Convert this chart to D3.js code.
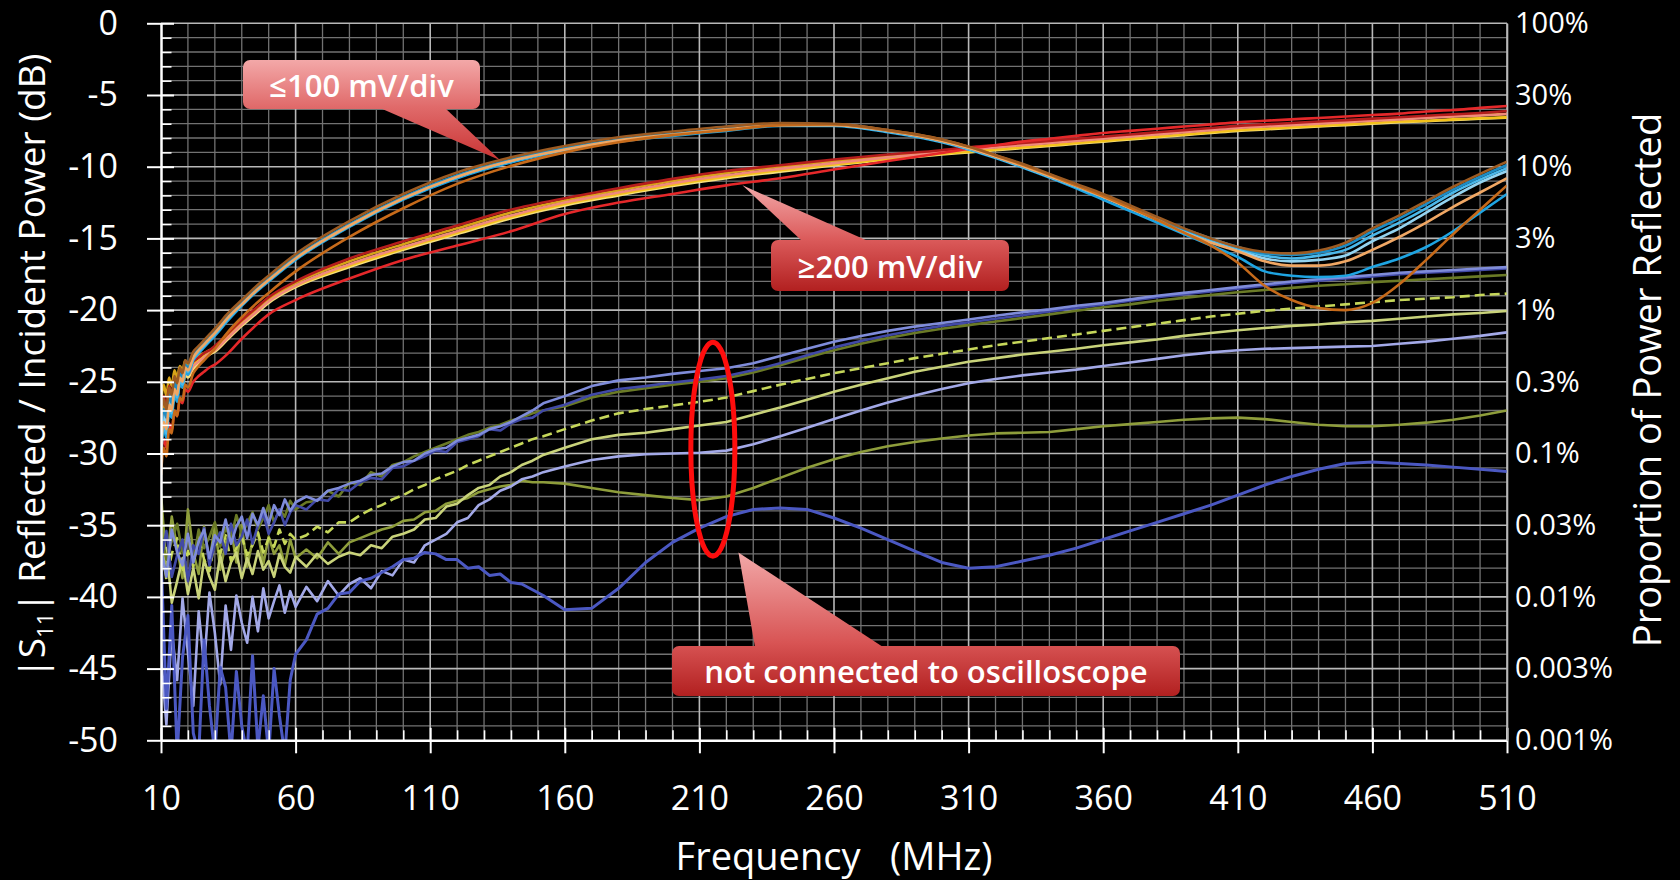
<!DOCTYPE html>
<html>
<head>
<meta charset="utf-8">
<script src="https://cdn.jsdelivr.net/npm/d3@7"></script>
<style>
  html, body { margin: 0; padding: 0; background: #000; }
  svg { display: block; }
  text { font-family: "Open Sans", "Noto Sans", sans-serif; fill: #fff; }
</style>
</head>
<body>
<svg id="chart" width="1680" height="880"></svg>
<script>
// ---------- frequency grids (MHz) ----------
const freqAB = [10,11,12,13,14,15,16,17,18,19,20,
  22,24,26,28,30,35,40,45,50,
  60,80,100,120,140,160,180,200,220,240,260,280,300,
  310,320,330,340,350,360,370,380,390,400,410,420,430,440,450,460,470,480,490,500,510];

const freqC = [10,12,14,16,18,20,22,24,26,28,30,32,34,36,38,40,42,44,46,48,50,52,54,56,58,60,
  64,68,72,76,80,84,88,92,96,100,104,108,112,116,120,124,128,132,136,140,144,148,152,
  160,170,180,190,200,210,220,230,240,250,260,270,280,290,300,310,320,330,340,350,
  360,370,380,390,400,410,420,430,440,450,460,470,480,490,500,510];

// ---------- |S11| in dB, probes at <=100 mV/div ----------
const lowA1 = [-27.6,-26.2,-27.0,-25.4,-25.9,-24.6,-25.1,-24.0,-24.4,-23.5,-23.7,
  -22.9,-22.5,-22.1,-21.7,-21.3,-20.2,-19.3,-18.4,-17.6,
  -16.1,-13.8,-11.9,-10.4,-9.35,-8.55,-7.95,-7.55,-7.2,-6.95,-7.0,-7.45,-8.1,
  -8.6,-9.2,-9.8,-10.5,-11.2,-11.9,-12.7,-13.5,-14.3,-15.0,-15.6,-15.95,-16.05,-15.85,-15.3,-14.3,-13.4,-12.4,-11.4,-10.5,-9.65];
const lowA2 = [-28.4,-26.9,-27.5,-25.9,-26.5,-24.9,-25.6,-24.4,-24.7,-23.8,-24.0,
  -23.2,-22.7,-22.3,-21.9,-21.5,-20.4,-19.5,-18.6,-17.8,
  -16.3,-14.0,-12.1,-10.6,-9.5,-8.7,-8.1,-7.7,-7.35,-7.05,-7.05,-7.5,-8.2,
  -8.7,-9.3,-9.95,-10.65,-11.35,-12.05,-12.85,-13.6,-14.35,-15.0,-15.6,-16.05,-16.15,-16.0,-15.5,-14.5,-13.6,-12.6,-11.6,-10.7,-9.88];
const lowA3 = [-30.5,-28.0,-28.6,-26.8,-27.2,-25.6,-26.1,-24.8,-25.2,-24.1,-24.3,
  -23.4,-22.9,-22.5,-22.1,-21.7,-20.6,-19.6,-18.7,-17.9,
  -16.4,-14.1,-12.2,-10.7,-9.6,-8.8,-8.15,-7.75,-7.4,-7.1,-7.1,-7.55,-8.25,
  -8.75,-9.35,-10.0,-10.7,-11.4,-12.1,-12.9,-13.65,-14.4,-15.1,-15.7,-16.2,-16.4,-16.2,-15.8,-14.8,-13.9,-12.9,-11.8,-10.9,-10.1];
const lowA4 = [-29.0,-27.4,-28.1,-26.3,-26.9,-25.3,-25.8,-24.6,-24.9,-24.0,-24.1,
  -23.3,-22.8,-22.4,-22.0,-21.6,-20.5,-19.6,-18.7,-17.9,
  -16.4,-14.1,-12.2,-10.7,-9.6,-8.8,-8.15,-7.75,-7.4,-7.1,-7.1,-7.55,-8.25,
  -8.75,-9.35,-10.0,-10.7,-11.4,-12.1,-12.9,-13.7,-14.5,-15.2,-15.8,-16.4,-16.6,-16.5,-16.2,-15.2,-14.3,-13.2,-12.1,-11.1,-10.3];
const lowA5 = [-29.6,-27.8,-28.3,-26.6,-27.0,-25.5,-25.9,-24.7,-25.0,-24.0,-24.2,
  -23.3,-22.8,-22.4,-22.0,-21.6,-20.5,-19.6,-18.7,-17.9,
  -16.4,-14.1,-12.2,-10.7,-9.6,-8.8,-8.15,-7.75,-7.4,-7.1,-7.1,-7.5,-8.2,
  -8.7,-9.3,-9.95,-10.65,-11.35,-12.1,-12.9,-13.7,-14.6,-15.3,-15.9,-16.6,-16.9,-16.9,-16.6,-15.8,-14.9,-13.9,-12.8,-11.8,-10.8];
const lowA6 = [-31.5,-29.6,-30.2,-28.3,-28.6,-27.0,-27.4,-26.1,-26.3,-25.2,-25.4,
  -24.4,-23.9,-23.5,-23.1,-22.7,-21.5,-20.5,-19.6,-18.8,
  -17.3,-14.9,-12.9,-11.2,-9.95,-9.0,-8.3,-7.8,-7.45,-7.1,-7.05,-7.45,-8.1,
  -8.6,-9.2,-9.85,-10.55,-11.3,-12.05,-12.85,-13.7,-14.6,-15.5,-16.7,-18.3,-19.3,-19.85,-20.0,-19.5,-18.2,-16.5,-14.7,-13.0,-11.3];
const lowA7 = [-30.0,-28.2,-28.9,-27.1,-27.5,-25.9,-26.4,-25.1,-25.4,-24.3,-24.5,
  -23.5,-23.0,-22.6,-22.2,-21.8,-20.7,-19.7,-18.8,-18.0,
  -16.5,-14.2,-12.3,-10.8,-9.7,-8.9,-8.25,-7.85,-7.5,-7.15,-7.15,-7.6,-8.3,
  -8.8,-9.4,-10.05,-10.75,-11.5,-12.3,-13.1,-13.9,-14.7,-15.5,-16.3,-17.3,-17.6,-17.7,-17.6,-17.0,-16.4,-15.6,-14.5,-13.2,-11.9];

// ---------- |S11| in dB, probes at >=200 mV/div ----------
const highB1 = [-30.2,-29.0,-29.6,-27.9,-28.4,-27.0,-27.4,-26.2,-26.5,-25.5,-25.7,
  -25.0,-24.6,-24.3,-24.0,-23.8,-23.0,-22.0,-21.1,-20.3,
  -19.3,-17.8,-16.5,-15.5,-14.5,-13.3,-12.5,-11.9,-11.3,-10.8,-10.2,-9.6,-9.05,
  -8.75,-8.5,-8.25,-8.05,-7.85,-7.65,-7.5,-7.35,-7.2,-7.05,-6.9,-6.8,-6.7,-6.6,-6.5,-6.4,-6.3,-6.15,-6.05,-5.9,-5.77];
const highB2 = [-27.2,-26.0,-26.8,-25.3,-25.9,-24.8,-25.2,-24.4,-24.6,-23.9,-24.1,
  -23.6,-23.3,-23.0,-22.8,-22.5,-21.6,-20.7,-19.9,-19.1,
  -18.0,-16.4,-15.2,-14.1,-13.0,-12.2,-11.5,-10.85,-10.3,-9.9,-9.5,-9.15,-8.85,
  -8.65,-8.5,-8.35,-8.2,-8.05,-7.9,-7.75,-7.6,-7.45,-7.3,-7.15,-7.05,-6.95,-6.85,-6.75,-6.65,-6.55,-6.45,-6.35,-6.25,-6.12];
const highB3 = [-28.5,-27.0,-27.7,-26.1,-26.6,-25.4,-25.8,-24.9,-25.1,-24.3,-24.5,
  -23.9,-23.6,-23.3,-23.0,-22.8,-21.9,-21.0,-20.2,-19.4,
  -18.3,-16.8,-15.6,-14.5,-13.4,-12.5,-11.8,-11.15,-10.6,-10.15,-9.75,-9.35,-9.0,
  -8.8,-8.65,-8.5,-8.35,-8.2,-8.05,-7.9,-7.75,-7.6,-7.45,-7.3,-7.2,-7.1,-7.0,-6.9,-6.8,-6.7,-6.6,-6.5,-6.42,-6.33];
const highB4 = [-27.8,-26.4,-27.3,-25.6,-26.2,-25.0,-25.5,-24.6,-24.9,-24.1,-24.3,
  -23.8,-23.5,-23.2,-23.0,-22.7,-21.8,-20.9,-20.1,-19.3,
  -18.3,-16.9,-15.7,-14.6,-13.5,-12.6,-11.9,-11.25,-10.7,-10.25,-9.85,-9.45,-9.1,
  -8.95,-8.8,-8.65,-8.5,-8.35,-8.2,-8.05,-7.9,-7.75,-7.6,-7.45,-7.35,-7.25,-7.15,-7.05,-6.95,-6.85,-6.8,-6.7,-6.62,-6.56];
const highB5 = [-26.5,-25.2,-26.0,-24.7,-25.3,-24.2,-24.7,-23.9,-24.2,-23.5,-23.9,
  -23.5,-23.2,-23.0,-22.8,-22.6,-21.7,-20.8,-20.0,-19.2,
  -18.1,-16.6,-15.4,-14.3,-13.2,-12.35,-11.65,-11.0,-10.45,-10.0,-9.6,-9.25,-8.95,
  -8.75,-8.6,-8.45,-8.3,-8.15,-8.0,-7.85,-7.7,-7.55,-7.4,-7.25,-7.15,-7.05,-6.95,-6.85,-6.75,-6.65,-6.55,-6.47,-6.4,-6.33];
const highB6 = [-28.8,-27.5,-28.0,-26.5,-27.0,-25.7,-26.1,-25.1,-25.4,-24.5,-24.7,
  -24.1,-23.7,-23.4,-23.1,-22.9,-22.0,-21.1,-20.3,-19.5,
  -18.4,-17.0,-15.8,-14.7,-13.6,-12.7,-12.0,-11.35,-10.8,-10.35,-9.9,-9.5,-9.15,
  -9.0,-8.85,-8.7,-8.55,-8.4,-8.25,-8.1,-7.95,-7.8,-7.65,-7.5,-7.4,-7.3,-7.2,-7.1,-7.0,-6.9,-6.82,-6.74,-6.66,-6.58];

// ---------- |S11| in dB, probes not connected to the oscilloscope ----------
const openC1 = [-37.5,-35.4,-38.6,-37.1,-36.0,-38.9,-36.4,-37.0,-35.2,-37.8,-36.3,-35.5,-37.0,-34.9,-36.4,-35.8,-34.6,-36.3,-35.0,-34.2,-35.6,-34.8,-33.9,-35.0,-34.1,-33.6,
  -33.9,-33.2,-33.3,-32.5,-32.6,-32.0,-31.7,-31.8,-31.0,-30.9,-30.5,-30.2,-29.8,-29.9,-29.2,-29.0,-28.8,-28.3,-28.4,-27.9,-27.6,-27.5,-27.0,
  -26.6,-25.9,-25.5,-25.3,-25.05,-24.85,-24.6,-24.2,-23.7,-23.15,-22.6,-22.15,-21.75,-21.4,-21.1,-20.85,-20.6,-20.35,-20.1,-19.85,
  -19.6,-19.35,-19.1,-18.9,-18.7,-18.5,-18.3,-18.1,-17.95,-17.8,-17.65,-17.5,-17.4,-17.3,-17.2,-17.1];
const openC2 = [-36.5,-38.6,-35.3,-36.9,-37.8,-35.6,-37.6,-36.1,-35.3,-37.3,-35.7,-36.2,-34.6,-36.3,-35.1,-34.4,-35.9,-34.2,-35.0,-33.8,-34.9,-33.6,-34.3,-33.2,-34.0,-33.4,
  -33.0,-33.3,-32.6,-32.4,-32.1,-31.9,-31.5,-31.4,-30.9,-30.6,-30.5,-30.0,-29.7,-29.6,-29.1,-28.9,-28.7,-28.3,-28.1,-27.8,-27.4,-27.0,-26.5,
  -26.0,-25.3,-24.9,-24.7,-24.45,-24.25,-24.05,-23.7,-23.2,-22.7,-22.2,-21.8,-21.45,-21.15,-20.9,-20.65,-20.4,-20.15,-19.95,-19.7,
  -19.5,-19.25,-19.0,-18.8,-18.6,-18.4,-18.2,-18.0,-17.85,-17.7,-17.55,-17.4,-17.3,-17.2,-17.1,-17.0];
const openC3 = [-35.5,-37.4,-36.1,-34.9,-36.9,-36.0,-37.5,-35.3,-36.6,-35.8,-34.8,-36.5,-35.2,-35.9,-34.3,-35.6,-34.9,-34.1,-35.3,-34.5,-33.6,-34.8,-33.9,-34.4,-33.3,-33.9,
  -33.4,-33.3,-32.6,-33.0,-32.0,-32.2,-31.3,-31.6,-30.8,-30.6,-30.2,-29.9,-29.6,-29.3,-29.0,-28.7,-28.5,-28.2,-28.0,-27.7,-27.5,-27.2,-27.0,
  -26.7,-26.1,-25.7,-25.45,-25.2,-25.0,-24.75,-24.35,-23.85,-23.3,-22.8,-22.35,-21.95,-21.6,-21.3,-21.05,-20.8,-20.55,-20.3,-20.05,
  -19.8,-19.6,-19.35,-19.15,-18.95,-18.75,-18.6,-18.45,-18.3,-18.2,-18.05,-17.95,-17.85,-17.75,-17.65,-17.55];
const openC4 = [-36.0,-38.8,-37.0,-35.9,-38.3,-36.8,-37.9,-35.6,-37.4,-38.2,-36.1,-37.0,-35.7,-37.5,-36.6,-35.8,-37.1,-36.4,-35.5,-36.9,-35.9,-36.5,-35.3,-36.3,-35.6,-36.0,
  -35.7,-35.1,-35.5,-34.8,-34.8,-34.3,-33.9,-33.6,-33.2,-32.9,-32.5,-32.2,-31.8,-31.5,-31.2,-30.8,-30.5,-30.2,-29.9,-29.6,-29.3,-29.0,-28.8,
  -28.3,-27.7,-27.2,-26.9,-26.65,-26.4,-26.1,-25.65,-25.2,-24.8,-24.4,-24.05,-23.7,-23.35,-23.05,-22.75,-22.45,-22.2,-21.95,-21.7,
  -21.45,-21.2,-20.95,-20.7,-20.45,-20.25,-20.05,-19.9,-19.75,-19.6,-19.45,-19.3,-19.2,-19.1,-18.95,-18.85];
const openC5 = [-38.5,-36.6,-40.4,-38.9,-37.3,-39.8,-38.0,-40.1,-37.4,-38.6,-39.5,-37.1,-38.9,-37.6,-36.9,-38.7,-37.3,-38.4,-36.8,-38.1,-37.5,-38.6,-37.0,-37.9,-38.3,-37.2,
  -37.9,-37.0,-37.7,-37.2,-36.9,-37.1,-36.4,-36.6,-35.8,-35.6,-35.3,-34.6,-34.5,-33.7,-33.5,-32.9,-32.4,-32.2,-31.6,-31.3,-30.8,-30.5,-30.1,
  -29.6,-29.0,-28.7,-28.55,-28.3,-28.05,-27.8,-27.3,-26.8,-26.25,-25.7,-25.2,-24.75,-24.3,-23.95,-23.6,-23.35,-23.1,-22.9,-22.7,
  -22.45,-22.25,-22.05,-21.8,-21.6,-21.4,-21.25,-21.1,-21.0,-20.85,-20.75,-20.6,-20.45,-20.3,-20.2,-20.06];
const openC6 = [-44.0,-48.9,-42.3,-45.8,-40.1,-43.9,-47.6,-41.0,-44.8,-39.7,-42.5,-46.1,-40.6,-43.7,-39.9,-41.8,-43.2,-40.0,-42.4,-39.4,-41.5,-40.3,-39.2,-41.1,-39.6,-40.7,
  -39.3,-40.3,-38.9,-39.9,-39.1,-38.7,-39.4,-38.2,-38.5,-37.4,-37.6,-36.4,-36.0,-35.6,-34.8,-34.5,-33.6,-33.2,-32.6,-32.3,-31.8,-31.6,-31.3,
  -30.9,-30.45,-30.2,-30.05,-30.0,-29.95,-29.8,-29.35,-28.8,-28.2,-27.6,-27.0,-26.45,-25.95,-25.5,-25.1,-24.8,-24.55,-24.35,-24.15,
  -23.9,-23.65,-23.4,-23.15,-22.95,-22.8,-22.7,-22.65,-22.6,-22.55,-22.5,-22.35,-22.2,-22.0,-21.8,-21.55];
const openC7 = [-32.8,-37.8,-34.4,-36.6,-38.7,-33.9,-36.9,-38.4,-35.1,-37.7,-34.9,-38.1,-36.3,-35.2,-37.6,-35.0,-37.9,-36.1,-35.5,-37.7,-35.8,-37.0,-36.4,-37.8,-36.0,-37.3,
  -36.7,-37.3,-36.2,-37.0,-36.2,-35.9,-35.6,-35.3,-35.1,-34.7,-34.6,-34.1,-34.0,-33.5,-33.3,-33.1,-32.7,-32.5,-32.3,-32.2,-31.9,-32.0,-32.0,
  -32.1,-32.4,-32.7,-32.9,-33.1,-33.25,-33.0,-32.4,-31.7,-31.0,-30.4,-29.9,-29.5,-29.2,-28.95,-28.75,-28.6,-28.55,-28.5,-28.3,
  -28.1,-27.95,-27.8,-27.65,-27.55,-27.5,-27.6,-27.8,-28.0,-28.1,-28.1,-28.0,-27.85,-27.65,-27.35,-27.0];
const openC8 = [-37.0,-47.8,-40.6,-51.0,-44.2,-41.3,-49.5,-51.0,-43.0,-47.6,-51.0,-44.9,-46.3,-51.0,-45.2,-49.0,-51.0,-44.1,-50.6,-46.9,-51.0,-45.0,-48.3,-51.0,-45.8,-44.0,
  -43.0,-41.2,-40.8,-39.8,-39.7,-38.9,-38.7,-38.3,-37.9,-37.4,-37.3,-36.9,-37.0,-37.4,-37.4,-38.0,-37.9,-38.5,-38.4,-39.0,-39.1,-39.5,-39.9,
  -40.9,-40.8,-39.4,-37.6,-36.2,-35.2,-34.4,-33.9,-33.8,-33.9,-34.5,-35.2,-36.0,-36.8,-37.6,-38.0,-37.9,-37.5,-37.1,-36.6,
  -36.0,-35.4,-34.8,-34.2,-33.6,-32.9,-32.2,-31.6,-31.1,-30.7,-30.6,-30.7,-30.8,-30.95,-31.1,-31.25];

// ---------- axis ticks and labels ----------
const dbTicks = [0,-5,-10,-15,-20,-25,-30,-35,-40,-45,-50];
const pctLabels = ["100%","30%","10%","3%","1%","0.3%","0.1%","0.03%","0.01%","0.003%","0.001%"];
const freqTicks = [10,60,110,160,210,260,310,360,410,460,510];

// ---------- drawing styles per trace (draw order back to front) ----------
const traces = [
  {f: freqC,  v: openC7, color: "#8e9d3b", jagged: true},
  {f: freqC,  v: openC5, color: "#c9d37a", jagged: true},
  {f: freqC,  v: openC4, color: "#c6d75a", jagged: true, dash: "10,5"},
  {f: freqC,  v: openC3, color: "#6a7a26", jagged: true},
  {f: freqC,  v: openC6, color: "#a3a9e8", jagged: true},
  {f: freqC,  v: openC8, color: "#4b58c2", jagged: true, width: 3},
  {f: freqC,  v: openC1, color: "#4149a6", jagged: true},
  {f: freqC,  v: openC2, color: "#7f8cda", jagged: true},
  {f: freqAB, v: highB6, color: "#f6e07c"},
  {f: freqAB, v: highB4, color: "#f4c21a"},
  {f: freqAB, v: highB5, color: "#d8a418"},
  {f: freqAB, v: highB3, color: "#f08a7c"},
  {f: freqAB, v: highB2, color: "#b51d1d"},
  {f: freqAB, v: highB1, color: "#e5282a"},
  {f: freqAB, v: lowA7,  color: "#1ea4e2"},
  {f: freqAB, v: lowA4,  color: "#93d3f0"},
  {f: freqAB, v: lowA3,  color: "#4bb8ea"},
  {f: freqAB, v: lowA2,  color: "#1d8cc4"},
  {f: freqAB, v: lowA5,  color: "#f0a764"},
  {f: freqAB, v: lowA6,  color: "#c66a1a"},
  {f: freqAB, v: lowA1,  color: "#9d5b22"}
];

// ---------- layout ----------
const X0 = 161, X1 = 1507, Y0 = 23.3, Y1 = 740.3;
const x = d3.scaleLinear().domain([10, 510]).range([X0, X1]);
const y = d3.scaleLinear().domain([-50, 0]).range([Y1, Y0]);

const svg = d3.select("#chart");
svg.append("rect").attr("width", 1680).attr("height", 880).attr("fill", "#000");
const defs = svg.append("defs");
defs.append("clipPath").attr("id", "plotClip")
  .append("rect").attr("x", X0).attr("y", Y0 - 3).attr("width", X1 - X0).attr("height", Y1 - Y0 + 3);

// ---------- grid ----------
const minorF = d3.range(20, 510, 10).filter(f => (f - 10) % 50 !== 0);
const majorF = d3.range(60, 511, 50);
const minorDb = d3.range(-1, -50, -1).filter(d => d % 5 !== 0);
const majorDb = d3.range(0, -50, -5);
const grid = svg.append("g");
grid.selectAll(".vmin").data(minorF).join("line")
  .attr("x1", d => x(d)).attr("x2", d => x(d)).attr("y1", Y0).attr("y2", Y1)
  .attr("stroke", "#727272").attr("stroke-width", 1.3);
grid.selectAll(".hmin").data(minorDb).join("line")
  .attr("x1", X0).attr("x2", X1).attr("y1", d => y(d)).attr("y2", d => y(d))
  .attr("stroke", "#727272").attr("stroke-width", 1.3);
grid.selectAll(".vmaj").data(majorF).join("line")
  .attr("x1", d => x(d)).attr("x2", d => x(d)).attr("y1", Y0).attr("y2", Y1)
  .attr("stroke", "#b8b8b8").attr("stroke-width", 1.6);
grid.selectAll(".hmaj").data(majorDb).join("line")
  .attr("x1", X0).attr("x2", X1).attr("y1", d => y(d)).attr("y2", d => y(d))
  .attr("stroke", "#b8b8b8").attr("stroke-width", 1.6);

// ---------- traces ----------
const smoothLine = d3.line().x(d => x(d[0])).y(d => y(d[1])).curve(d3.curveMonotoneX);
const jaggedLine = d3.line().x(d => x(d[0])).y(d => y(d[1])).curve(d3.curveLinear);
svg.append("g").attr("clip-path", "url(#plotClip)")
  .selectAll("path").data(traces).join("path")
  .attr("d", t => (t.jagged ? jaggedLine : smoothLine)(t.f.map((f, i) => [f, t.v[i]])))
  .attr("fill", "none")
  .attr("stroke", t => t.color)
  .attr("stroke-width", t => t.width || 2.6)
  .attr("stroke-linejoin", "round")
  .attr("stroke-dasharray", t => t.dash || null);

// ---------- axes ----------
function styleAxis(g, size) {
  g.attr("font-family", null).attr("font-size", null);
  g.selectAll("line").attr("stroke", "#fff").attr("stroke-width", 2);
  g.selectAll("text").attr("fill", "#fff").style("font-size", size + "px");
}
const minorDbAll = d3.range(-1, -50, -1).filter(d => d % 5 !== 0);
const minorFAll = d3.range(20, 510, 10).filter(f => (f - 10) % 50 !== 0);

// left axis: outward major ticks with labels
const gLeft = svg.append("g").attr("transform", `translate(${X0},0)`)
  .call(d3.axisLeft(y).tickValues(dbTicks).tickSize(14).tickSizeOuter(0).tickPadding(29).tickFormat(d => String(d)));
styleAxis(gLeft, 34);
gLeft.select(".domain").attr("stroke", "#fff").attr("stroke-width", 2.5);
// inward ticks on the left axis
const gLeftIn = svg.append("g").attr("transform", `translate(${X0},0)`)
  .call(d3.axisRight(y).tickValues(minorDbAll).tickSize(10.5).tickFormat(""));
gLeftIn.select(".domain").remove();
styleAxis(gLeftIn, 10);
gLeftIn.selectAll("line").attr("stroke-width", 1.6);
const gLeftInMaj = svg.append("g").attr("transform", `translate(${X0},0)`)
  .call(d3.axisRight(y).tickValues(dbTicks).tickSize(13).tickFormat(""));
gLeftInMaj.select(".domain").remove();
styleAxis(gLeftInMaj, 10);

// bottom axis
const gBottom = svg.append("g").attr("transform", `translate(0,${Y1})`)
  .call(d3.axisBottom(x).tickValues(freqTicks).tickSize(13).tickSizeOuter(0).tickPadding(33).tickFormat(d => String(d)));
styleAxis(gBottom, 34);
gBottom.select(".domain").attr("stroke", "#fff").attr("stroke-width", 2.5);
const gBottomIn = svg.append("g").attr("transform", `translate(0,${Y1})`)
  .call(d3.axisTop(x).tickValues(minorFAll).tickSize(10).tickFormat(""));
gBottomIn.select(".domain").remove();
styleAxis(gBottomIn, 10);
gBottomIn.selectAll("line").attr("stroke-width", 1.6);
const gBottomInMaj = svg.append("g").attr("transform", `translate(0,${Y1})`)
  .call(d3.axisTop(x).tickValues(freqTicks).tickSize(12.5).tickFormat(""));
gBottomInMaj.select(".domain").remove();
styleAxis(gBottomInMaj, 10);

// right axis: proportion of power reflected
const gRight = svg.append("g").attr("transform", `translate(${X1},0)`)
  .call(d3.axisRight(y).tickValues(dbTicks).tickSize(0).tickSizeOuter(0).tickPadding(8)
    .tickFormat((d, i) => pctLabels[i]));
styleAxis(gRight, 29);
gRight.select(".domain").attr("stroke", "#b8b8b8").attr("stroke-width", 1.6);

// ---------- axis titles ----------
const leftTitle = svg.append("text")
  .attr("transform", "translate(45,366) rotate(-90)")
  .attr("text-anchor", "middle").style("font-size", "37px");
leftTitle.append("tspan").text("|S");
leftTitle.append("tspan").text("11").style("font-size", "22px").attr("dy", 8);
leftTitle.append("tspan").text("| Reflected / Incident Power (dB)").attr("dy", -8);

svg.append("text")
  .attr("transform", "translate(1661,380) rotate(-90)")
  .attr("text-anchor", "middle").style("font-size", "38px")
  .text("Proportion of Power Reflected");

svg.append("text")
  .attr("x", (X0 + X1) / 2).attr("y", 870)
  .attr("text-anchor", "middle").style("font-size", "38px").style("white-space", "pre")
  .text("Frequency   (MHz)");

// ---------- annotations ----------
const callouts = [
  {text: "\u2264100 mV/div", box: [243, 60, 480, 109], base: [380, 445], tip: [136, -9.55],
   stops: [[0, "#f3a8a8"], [0.47, "#e06a6a"], [1, "#c93434"]]},
  {text: "\u2265200 mV/div", box: [771, 240, 1009, 291], base: [802, 868], tip: [226, -11.3],
   stops: [[0, "#f2a8a8"], [0.5, "#dc5c5c"], [1, "#b22020"]]},
  {text: "not connected to oscilloscope", box: [672, 646, 1180, 696], base: [755, 883], tip: [224.5, -36.9],
   stops: [[0, "#f2a8a8"], [0.63, "#d85454"], [1, "#b22020"]]}
];

callouts.forEach((c, k) => {
  const [bx0, by0, bx1, by1] = c.box;
  const tx = x(c.tip[0]), ty = y(c.tip[1]);
  const top = Math.min(by0, ty), bottom = Math.max(by1, ty);
  const gid = "callGrad" + k;
  const grad = defs.append("linearGradient").attr("id", gid)
    .attr("gradientUnits", "userSpaceOnUse")
    .attr("x1", 0).attr("x2", 0).attr("y1", top).attr("y2", bottom);
  c.stops.forEach(s => grad.append("stop").attr("offset", s[0]).attr("stop-color", s[1]));
  const g = svg.append("g");
  const edgeY = ty < by0 ? by0 + 1 : by1 - 1;
  g.append("path")
    .attr("d", `M${c.base[0]},${edgeY}L${tx},${ty}L${c.base[1]},${edgeY}Z`)
    .attr("fill", `url(#${gid})`);
  g.append("rect")
    .attr("x", bx0).attr("y", by0).attr("width", bx1 - bx0).attr("height", by1 - by0)
    .attr("rx", 7).attr("fill", `url(#${gid})`);
  g.append("text")
    .attr("x", (bx0 + bx1) / 2).attr("y", (by0 + by1) / 2)
    .attr("text-anchor", "middle").attr("dominant-baseline", "central")
    .style("font-size", "31px").style("font-weight", 600)
    .text(c.text);
});

// ellipse marking the unconnected probe traces
svg.append("ellipse")
  .attr("cx", x(215)).attr("cy", y(-29.7)).attr("rx", 22).attr("ry", 107)
  .attr("fill", "none").attr("stroke", "#ff0d0d").attr("stroke-width", 5);
</script>
</body>
</html>
